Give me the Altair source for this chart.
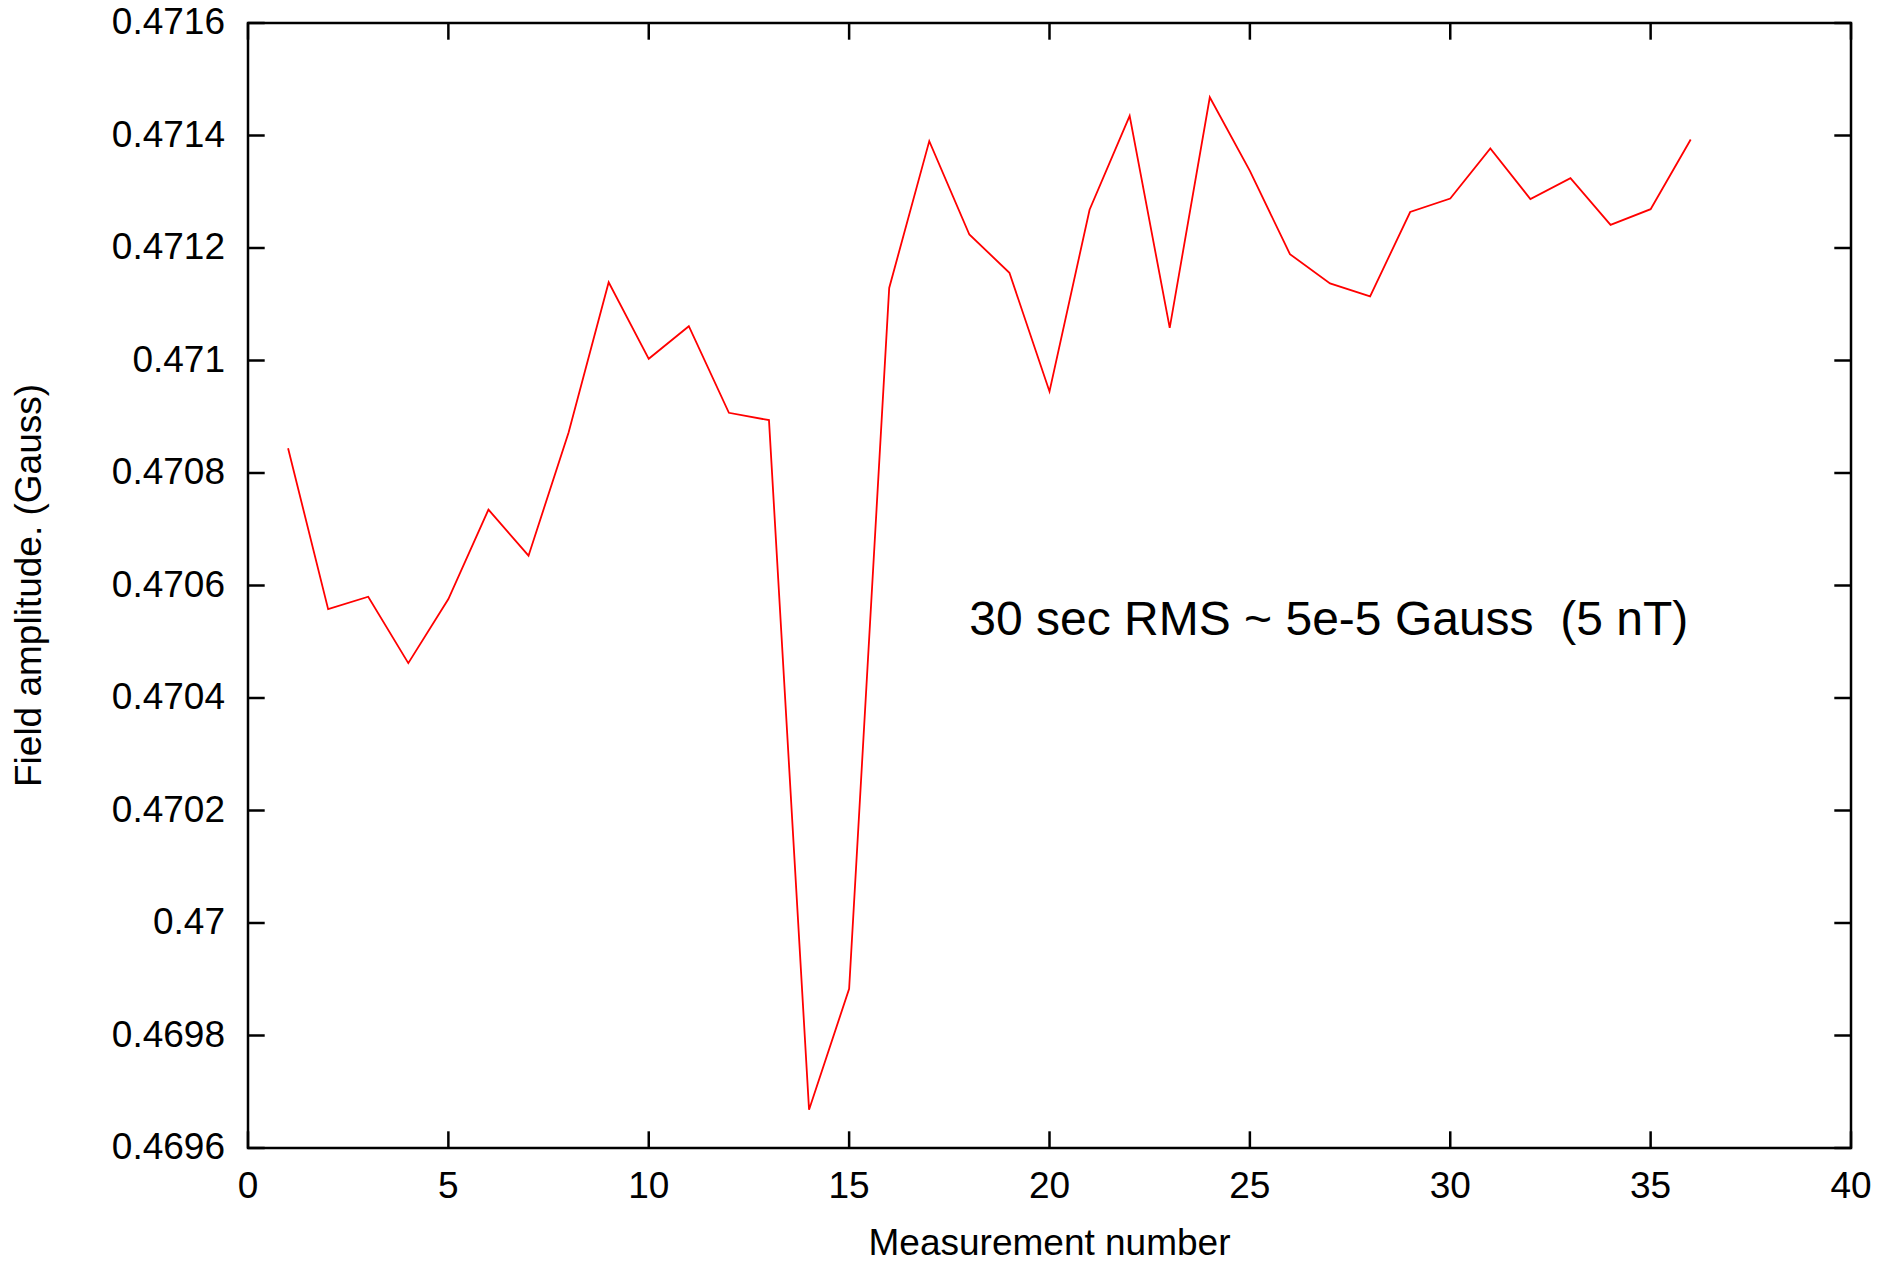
import altair as alt
import pandas as pd

# Data
measurement = list(range(1, 37))
field = [
    0.470844, 0.470558, 0.470580, 0.470462, 0.470576, 0.470735, 0.470653, 0.470872,
    0.471139, 0.471003, 0.471061, 0.470907, 0.470894, 0.469668, 0.469883, 0.471129,
    0.471390, 0.471224, 0.471156, 0.470945, 0.471268, 0.471435, 0.471058, 0.471468,
    0.471337, 0.471189, 0.471137, 0.471114, 0.471264, 0.471288, 0.471377, 0.471287,
    0.471324, 0.471241, 0.471269, 0.471393,
]
x_ticks = [0, 5, 10, 15, 20, 25, 30, 35, 40]
y_ticks = [0.4696, 0.4698, 0.4700, 0.4702, 0.4704, 0.4706, 0.4708, 0.4710, 0.4712, 0.4714, 0.4716]
annotation = "30 sec RMS ~ 5e-5 Gauss \u00a0(5 nT)"
x_title = "Measurement number"
y_title = "Field amplitude. (Gauss)"

W = 1603
H = 1125
TICK = 16.7
FONT = "Liberation Sans"
LABEL_SIZE = 37
TITLE_SIZE = 37

df = pd.DataFrame({"n": measurement, "v": field})
xt = pd.DataFrame({"t": x_ticks})
yt = pd.DataFrame({"t": y_ticks})

xscale = alt.Scale(domain=[0, 40], nice=False, zero=False)
yscale = alt.Scale(domain=[0.4696, 0.4716], nice=False, zero=False)

line = alt.Chart(df).mark_line(color="#ff0000", strokeWidth=1.8).encode(
    x=alt.X("n:Q", scale=xscale, axis=None),
    y=alt.Y("v:Q", scale=yscale, axis=None),
)

rule_style = dict(color="black", strokeWidth=2.5)

y_left = alt.Chart(yt).mark_rule(**rule_style).encode(
    y=alt.Y("t:Q", scale=yscale, axis=None), x=alt.value(0), x2=alt.value(TICK))
y_right = alt.Chart(yt).mark_rule(**rule_style).encode(
    y=alt.Y("t:Q", scale=yscale, axis=None), x=alt.value(W - TICK), x2=alt.value(W))
x_bottom = alt.Chart(xt).mark_rule(**rule_style).encode(
    x=alt.X("t:Q", scale=xscale, axis=None), y=alt.value(H - TICK), y2=alt.value(H))
x_top = alt.Chart(xt).mark_rule(**rule_style).encode(
    x=alt.X("t:Q", scale=xscale, axis=None), y=alt.value(0), y2=alt.value(TICK))

# tick labels, positioned through the shared scales
y_labels = alt.Chart(yt).transform_calculate(
    lab="format(datum.t, '.4~f')"
).mark_text(align="right", baseline="middle", font=FONT, fontSize=LABEL_SIZE, color="black").encode(
    y=alt.Y("t:Q", scale=yscale, axis=None), x=alt.value(-23), text="lab:N")

x_labels = alt.Chart(xt).transform_calculate(
    lab="format(datum.t, 'd')"
).mark_text(align="center", baseline="alphabetic", font=FONT, fontSize=LABEL_SIZE, color="black").encode(
    x=alt.X("t:Q", scale=xscale, axis=None), y=alt.value(H + 50), text="lab:N")

x_title_layer = alt.Chart(pd.DataFrame({"label": [x_title]})).mark_text(
    align="center", baseline="alphabetic", font=FONT, fontSize=TITLE_SIZE, color="black"
).encode(x=alt.value(W / 2), y=alt.value(H + 107), text="label:N")

y_title_layer = alt.Chart(pd.DataFrame({"label": [y_title]})).mark_text(
    align="center", baseline="alphabetic", font=FONT, fontSize=TITLE_SIZE, color="black", angle=270
).encode(x=alt.value(-207), y=alt.value(H / 2), text="label:N")

note = alt.Chart(pd.DataFrame({"label": [annotation]})).mark_text(
    align="left", baseline="alphabetic", fontSize=48, font=FONT, color="black"
).encode(
    x=alt.XDatum(18.0, scale=xscale, axis=None),
    y=alt.YDatum(0.4705125, scale=yscale, axis=None),
    text="label:N",
)

chart = alt.layer(
    line, y_left, y_right, x_bottom, x_top, y_labels, x_labels, x_title_layer, y_title_layer, note
).properties(
    width=W, height=H,
    autosize=alt.AutoSizeParams(type="none"),
    padding={"left": 240, "top": 15, "right": 40, "bottom": 120},
    background="white",
).configure_view(stroke="black", strokeWidth=2.5)

chart.save("out.html", embed_options={"renderer": "svg", "actions": False})
